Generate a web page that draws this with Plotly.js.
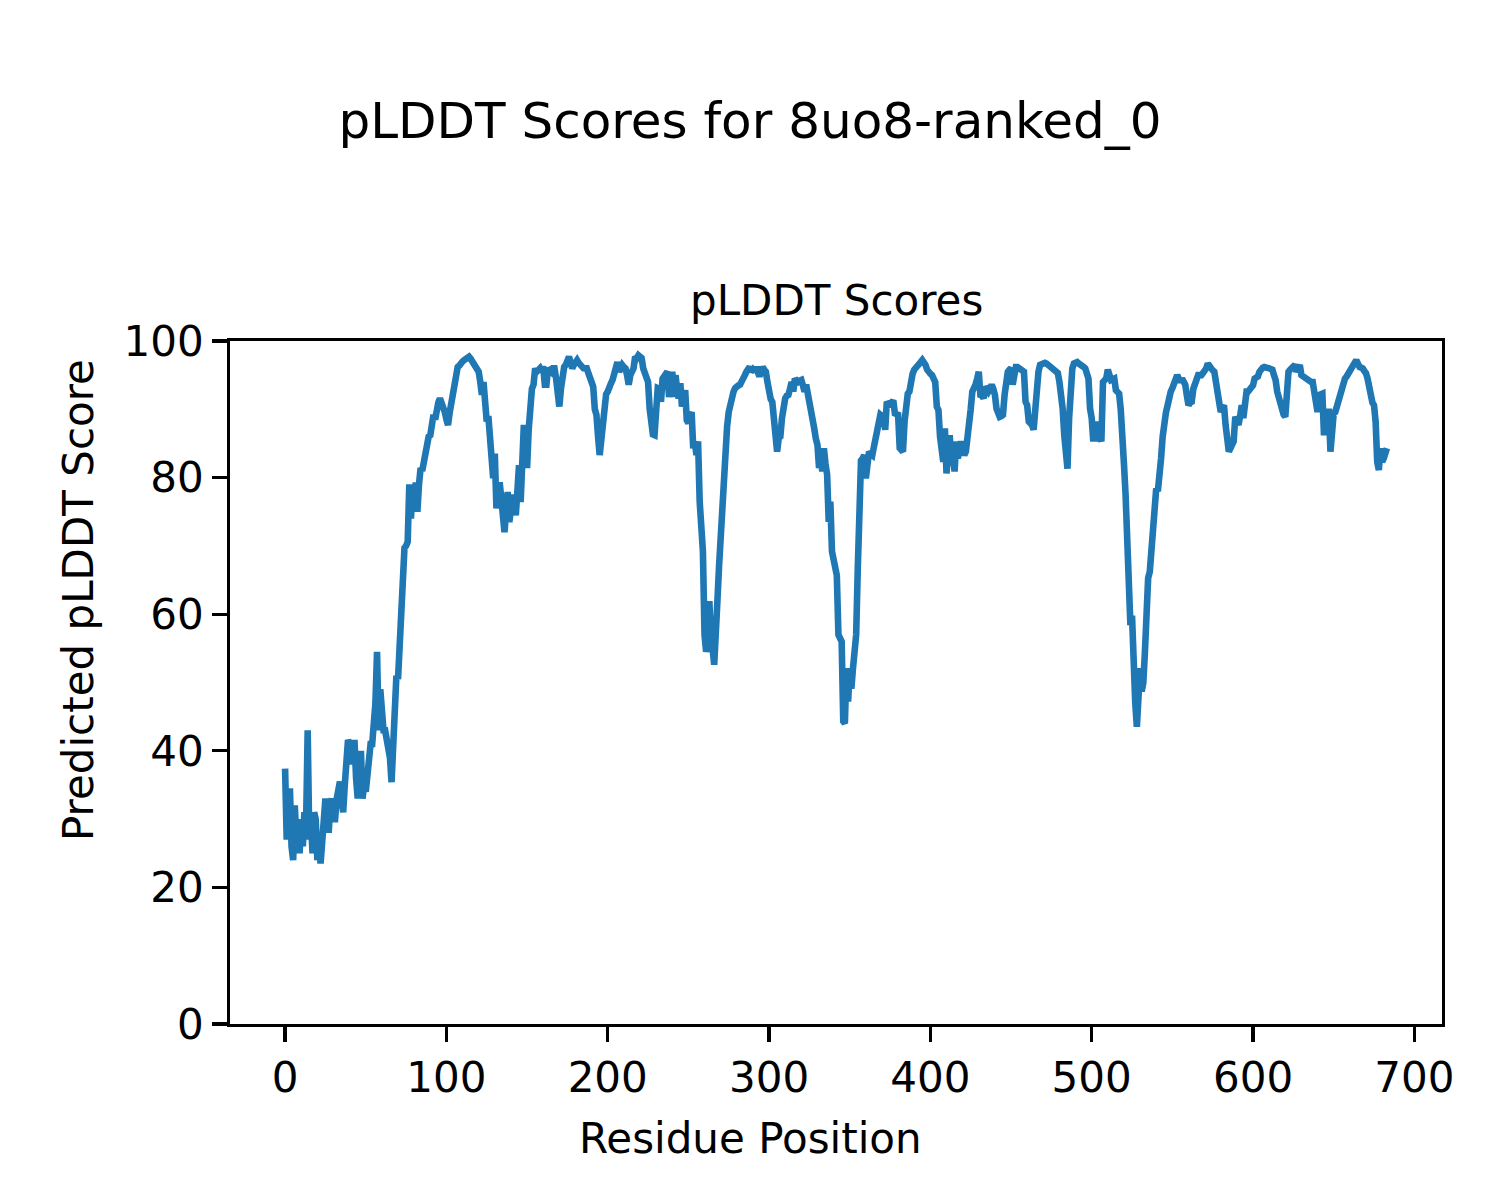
<!DOCTYPE html>
<html>
<head>
<meta charset="utf-8">
<script src="https://cdn.plot.ly/plotly-3.0.1.min.js"></script>
<style>html,body{margin:0;padding:0;background:#fff;}#chart{width:1500px;height:1200px;}</style>
</head>
<body>
<div id="chart"></div>
<script>
const plddt = [
37.4, 27, 31, 34.5, 26, 24, 32, 27, 30, 25,
30, 26, 31, 29, 43, 27, 30, 25, 31, 30,
24, 26, 23.5, 27, 30, 33, 31, 28, 32, 33,
30, 30, 33, 35, 35.5, 33, 31, 35, 38, 41.6,
41, 38, 40, 41.6, 36, 33, 37, 40, 33, 35,
34, 37, 38, 41, 41, 43, 47, 54.5, 43, 49,
45.7, 43, 43, 42, 41, 39, 35.4, 42, 49.6, 51,
50.5, 56, 61.8, 63, 69.7, 70, 70.6, 79, 74, 78,
75, 79.3, 75, 79, 81.4, 81, 82.3, 84, 85.7, 86,
86.2, 87.5, 89.2, 88.5, 90.1, 91, 91.6, 91, 90, 89.6,
88.5, 87.7, 89.5, 91.1, 92, 94, 96, 96.2, 96.4, 96.9,
97, 97.2, 97.3, 97.5, 97.7, 97.4, 97, 96.9, 96.3, 95.8,
95.5, 94, 92.1, 94, 91, 88.2, 89, 86, 83.8, 79.9,
83.5, 75.5, 77, 79.3, 77, 75, 72, 75, 77.9, 73.5,
76, 77.5, 76, 74.5, 78, 81.8, 76.4, 82, 87.7, 84,
81.4, 87, 92, 93, 93.6, 96, 95.5, 95.8, 96, 95.5,
96.3, 93.6, 93.6, 96, 95.5, 95.5, 96, 96, 94.5, 90.6,
90.4, 93, 96, 96.2, 96.5, 97, 97.7, 96.8, 96, 96.5,
97, 97.2, 96.8, 96.5, 96.2, 96, 96, 96, 95.3, 94.5,
94, 93.3, 90, 89.2, 86, 83.3, 85.5, 88.2, 91.8, 92.2,
92.6, 93, 93.8, 94.3, 95, 96, 96.9, 95.5, 96, 96.5,
96.2, 96, 95, 93.6, 95, 95.5, 96, 97.7, 97.5, 97.9,
97.7, 97.5, 96, 95.5, 94.5, 94, 90.1, 87.2, 86.3, 86.2,
89.6, 93.1, 93, 91.1, 94.5, 95, 95.3, 95.5, 91.8, 95.5,
95.5, 91.8, 95, 93, 91.6, 93.8, 90.4, 91.5, 92.8, 88.4,
88, 89, 89.6, 84.3, 85.3, 83.3, 85.3, 76.5, 71.6, 69.2,
57, 54.5, 55.5, 61.9, 56, 55, 52.6, 56, 62, 67,
71.6, 76, 79.9, 84.8, 87.5, 89.6, 91, 92.1, 92.6, 93.1,
93.4, 93.5, 93.6, 94.3, 94.8, 95, 95.5, 95.8, 96.2, 95.5,
95.8, 95.5, 96.2, 95.5, 94.8, 95.5, 96.2, 95.8, 95.5, 94,
91.8, 91.5, 91.1, 88, 84.8, 83.8, 85.8, 86, 88.7, 90.5,
91.6, 92, 92.1, 93, 94, 92.6, 94.5, 94.2, 94, 94.2,
94.3, 93.5, 92.6, 93.6, 92.5, 91.1, 89.5, 88.4, 87.2, 85.7,
84.8, 81.4, 82.8, 80.9, 84.3, 82, 80.4, 73.5, 76.5, 69.2,
68, 67.2, 65.7, 57, 56.5, 56, 44.3, 44, 52.1, 47.2,
52, 49.1, 52, 56, 57, 66.7, 82.3, 82.5, 82.8, 83.3,
79.9, 83, 83.8, 83.5, 83.3, 84.5, 85.7, 86.2, 87, 89.2,
89, 89.2, 87, 91.1, 90.8, 90.4, 91, 91.3, 89.4, 89.3,
89.2, 84.3, 84, 83.8, 88.2, 92.1, 92.3, 92.6, 94.5, 95.2,
95.8, 96, 96.2, 96.5, 96.9, 97.2, 96.9, 96.5, 95.8, 95.3,
95.2, 95, 94.5, 94, 90.4, 89.9, 86, 82.8, 82.3, 87.2,
80.6, 84, 86.2, 81.8, 83, 80.9, 85.3, 82.8, 84, 85.3,
84, 83.3, 83.8, 85.5, 87.7, 90, 92.6, 93, 93.6, 94.5,
95.5, 92.1, 92, 91.6, 93.3, 93, 92.6, 93, 93.6, 93,
92.1, 90.1, 88.9, 88.9, 89, 89.2, 92.1, 94, 95.5, 95.8,
96, 93.6, 96.2, 96.2, 96.2, 96, 96, 95.8, 95.5, 91.1,
90.6, 88.2, 88, 87.7, 87, 90.1, 94.5, 95.5, 96.5, 96.7,
96.9, 96.8, 96.7, 96.5, 96.3, 96.2, 96.1, 96, 95.6, 95.3,
94, 92.6, 90.1, 86.2, 82.3, 81.3, 88.7, 94.5, 96, 96.7,
96.8, 96.9, 96.7, 96.6, 96.5, 96.2, 96, 95.3, 94.5, 90.1,
88.7, 85.3, 87.7, 85.3, 88.2, 86, 85.3, 94, 94.3, 94.5,
95.8, 95, 94.3, 94.4, 94.5, 92.8, 92.5, 92.3, 90, 87.2,
82, 77.5, 70, 61, 58.4, 59.8, 50.6, 47, 43.5, 51.6,
52.1, 48.7, 50, 54.5, 61, 65.3, 66.2, 70, 73.6, 76,
78.4, 78, 82.3, 82.8, 86, 89.2, 89.5, 90.5, 92.1, 92.6,
93.1, 93.6, 94, 95, 94.5, 94, 94.5, 94, 93.6, 92,
90.6, 91, 91.1, 93, 94, 94.5, 95, 95, 95, 95.3,
95.5, 96, 96.7, 96.2, 96, 95.7, 95.5, 94, 92.6, 90,
89.6, 90.2, 90.6, 87.7, 85, 83.8, 84.3, 85, 85.3, 88.9,
88, 87.7, 89, 90.6, 88.7, 91, 92.6, 92.6, 92.8, 93.1,
93.5, 94.5, 94.6, 94.8, 95.5, 96, 96.1, 96.2, 96.2, 96.2,
96, 95.9, 95.8, 95, 94.3, 92.6, 91.5, 90.6, 89.6, 89.2,
88.9, 92.6, 95.5, 95.8, 96, 96.2, 96.5, 95.5, 96, 96.5,
95, 94.8, 94.6, 94.5, 94.5, 94.2, 94, 94, 92.8, 91.8,
89.6, 92.1, 92.3, 92.3, 86.2, 88.7, 86.2, 90.1, 83.8, 89.2,
89.4, 89.6, 90.5, 91.6, 92.5, 93.1, 93.8, 94.5, 94.8, 95.3,
95.5, 96, 96.3, 96.8, 97.2, 96.5, 96.2, 96.1, 96, 95.6,
95.3, 94.5, 93.1, 92.1, 91, 90.6, 88.2, 82.3, 81.1, 84.3,
82.3, 82.8, 84.3, 84.3
];
const residues = plddt.map((_, i) => i);
const xTicks = [0, 100, 200, 300, 400, 500, 600, 700];
const yTicks = [0, 20, 40, 60, 80, 100];
const mainTitle = 'pLDDT Scores for 8uo8-ranked_0';
const axesTitle = 'pLDDT Scores';
const xLabel = 'Residue Position';
const yLabel = 'Predicted pLDDT Score';

const font = 'DejaVu Sans, sans-serif';
const n = plddt.length - 1;
const pad = n * 0.05;

// plot area in pixels: x 230..1442, y 341..1024
const L = 230, R = 58, T = 341, B = 176, W = 1500, H = 1200;
const pw = W - L - R, ph = H - T - B;
const px = v => (v - L) / pw;          // figure px -> paper x
const py = v => (H - B - v) / ph;      // figure px -> paper y

Plotly.newPlot('chart', [{
  x: residues, y: plddt, type: 'scatter', mode: 'lines',
  line: {color: '#1f77b4', width: 6.6}, hoverinfo: 'skip'
}], {
  width: W, height: H,
  paper_bgcolor: '#fff', plot_bgcolor: '#fff',
  margin: {l: L, r: R, t: T, b: B, pad: 0},
  font: {family: font, color: '#000', size: 42},
  showlegend: false,
  title: {text: mainTitle, font: {family: font, size: 50, color: '#000'}, x: 0.5, xanchor: 'center', xref: 'container', y: 1 - 120/1200, yanchor: 'middle', yref: 'container'},
  xaxis: {
    range: [-pad, n + pad], tickvals: xTicks, ticktext: xTicks.map(String),
    ticks: 'outside', ticklen: 14.6, tickwidth: 3.3, tickcolor: '#000',
    showline: true, linecolor: '#000', linewidth: 3.3, mirror: true,
    showgrid: false, zeroline: false,
    tickfont: {family: font, size: 42, color: '#000'}
  },
  yaxis: {
    range: [0, 100], tickvals: yTicks, ticktext: yTicks.map(String),
    ticks: 'outside', ticklen: 14.6, tickwidth: 3.3, tickcolor: '#000',
    showline: true, linecolor: '#000', linewidth: 3.3, mirror: true,
    showgrid: false, zeroline: false,
    tickfont: {family: font, size: 42, color: '#000'}
  },
  annotations: [{
    text: axesTitle, xref: 'paper', yref: 'paper', x: 0.5, y: 1,
    xanchor: 'center', yanchor: 'bottom', yshift: 14, showarrow: false,
    font: {family: font, size: 42, color: '#000'}
  }, {
    text: xLabel, xref: 'paper', yref: 'paper', x: px(750), y: py(1138),
    xanchor: 'center', yanchor: 'middle', showarrow: false,
    font: {family: font, size: 42, color: '#000'}
  }, {
    text: yLabel, xref: 'paper', yref: 'paper', x: px(78), y: py(600),
    xanchor: 'center', yanchor: 'middle', textangle: -90, showarrow: false,
    font: {family: font, size: 42, color: '#000'}
  }]
}, {staticPlot: true, displayModeBar: false});
</script>
</body>
</html>
